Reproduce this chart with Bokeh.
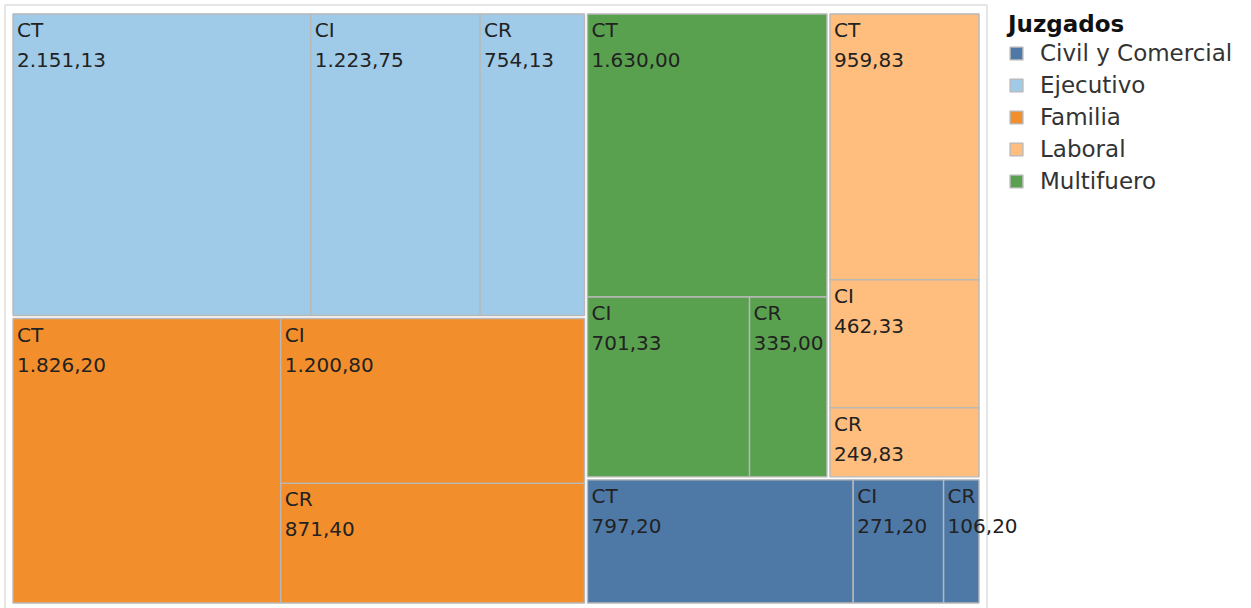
import math
from bokeh.plotting import figure
from bokeh.models import Range1d, Legend, LegendItem, ColumnDataSource
from bokeh.core.properties import value
from bokeh.embed import file_html
from bokeh.resources import INLINE

# ---------------- data ----------------
groups = ["Ejecutivo", "Familia", "Multifuero", "Laboral", "Civil y Comercial"]
leaf_names = ["CT", "CI", "CR"]
ejecutivo = [2151.13, 1223.75, 754.13]
familia = [1826.20, 1200.80, 871.40]
multifuero = [1630.00, 701.33, 335.00]
laboral = [959.83, 462.33, 249.83]
civil = [797.20, 271.20, 106.20]
legend_order = ["Civil y Comercial", "Ejecutivo", "Familia", "Laboral", "Multifuero"]
colors = {
    "Civil y Comercial": "#4e79a7",
    "Ejecutivo": "#a0cbe8",
    "Familia": "#f28e2b",
    "Laboral": "#ffbe7d",
    "Multifuero": "#59a14f",
}
group_values = {
    "Ejecutivo": ejecutivo,
    "Familia": familia,
    "Multifuero": multifuero,
    "Laboral": laboral,
    "Civil y Comercial": civil,
}

FONT = "DejaVu Sans"
PHI = (1 + 5 ** 0.5) / 2


def squarify(values, x0, y0, x1, y1, ratio=PHI):
    """d3-style squarified treemap tiling (values sorted descending)."""
    rects = [None] * len(values)
    order = sorted(range(len(values)), key=lambda i: -values[i])
    vals = [values[i] for i in order]
    n = len(vals)
    rem = sum(vals)
    i0 = i1 = 0
    while i0 < n:
        dx, dy = x1 - x0, y1 - y0
        s = vals[i1]
        i1 += 1
        mn = mx = s
        alpha = max(dy / dx, dx / dy) / (rem * ratio)
        beta = s * s * alpha
        best = max(mx / beta, beta / mn)
        while i1 < n:
            v = vals[i1]
            s2 = s + v
            mn2, mx2 = min(mn, v), max(mx, v)
            beta = s2 * s2 * alpha
            r = max(mx2 / beta, beta / mn2)
            if r > best:
                break
            s, mn, mx, best = s2, mn2, mx2, r
            i1 += 1
        row = list(range(i0, i1))
        if dx < dy:
            ny = y0 + dy * s / rem
            cx = x0
            for k in row:
                w = dx * vals[k] / s
                rects[order[k]] = (cx, y0, cx + w, ny)
                cx += w
            y0 = ny
        else:
            nx = x0 + dx * s / rem
            cy = y0
            for k in row:
                h = dy * vals[k] / s
                rects[order[k]] = (x0, cy, nx, cy + h)
                cy += h
            x0 = nx
        rem -= s
        i0 = i1
    return rects


def fmt(v):
    s = f"{v:,.2f}"
    return s.replace(",", "X").replace(".", ",").replace("X", ".")


# ---------------- figure ----------------
W, H = 1240, 608
p = figure(width=W, height=H, output_backend="svg", toolbar_location=None,
           x_range=Range1d(0, W), y_range=Range1d(H, 0),
           x_axis_type=None, y_axis_type=None, min_border=0,
           background_fill_color="white", border_fill_color="white")
p.grid.visible = False
p.outline_line_color = None

# outer light frame
p.quad(left=[4.5], right=[986.5], top=[4.5], bottom=[640],
       fill_color=None, line_color="#dedede", line_width=1.5)

TX0, TY0, TX1, TY1 = 11, 12, 980, 604
GPAD = 1.5
totals = [sum(group_values[g]) for g in groups]
grects = squarify(totals, TX0, TY0, TX1, TY1)

renderers = {}
for g, (gx0, gy0, gx1, gy1) in zip(groups, grects):
    gx0, gy0, gx1, gy1 = gx0 + GPAD, gy0 + GPAD, gx1 - GPAD, gy1 - GPAD
    vals = group_values[g]
    lrects = squarify(vals, gx0, gy0, gx1, gy1)
    src = ColumnDataSource(dict(
        left=[r[0] for r in lrects], right=[r[2] for r in lrects],
        top=[r[1] for r in lrects], bottom=[r[3] for r in lrects],
        name=leaf_names, val=[fmt(v) for v in vals],
        tx=[r[0] + 4 for r in lrects],
        ty1=[r[1] + 16 for r in lrects],
        ty2=[r[1] + 46 for r in lrects],
    ))
    renderers[g] = p.quad(left="left", right="right", top="top", bottom="bottom",
                          source=src, fill_color=colors[g], line_color="#b8b8b8",
                          line_width=1.4)
    p.text(x="tx", y="ty1", text="name", source=src, text_font=value(FONT),
           text_font_size="20px", text_color="#222222", text_baseline="alphabetic")
    p.text(x="tx", y="ty2", text="val", source=src, text_font=value(FONT),
           text_font_size="20px", text_color="#222222", text_baseline="alphabetic")

legend = Legend(
    items=[LegendItem(label=g, renderers=[renderers[g]]) for g in legend_order],
    location=(1008, H - 195),
    title="Juzgados",
    title_text_font=FONT, title_text_font_style="bold", title_text_font_size="23px",
    title_text_color="#111111", title_standoff=2,
    label_text_font=FONT, label_text_font_size="23px", label_text_color="#333333",
    glyph_width=16, glyph_height=16, label_standoff=16, label_height=28,
    spacing=4, padding=0, margin=0,
    border_line_color=None, background_fill_alpha=0,
)
p.add_layout(legend)

open("out.html", "w").write(file_html(p, INLINE))
